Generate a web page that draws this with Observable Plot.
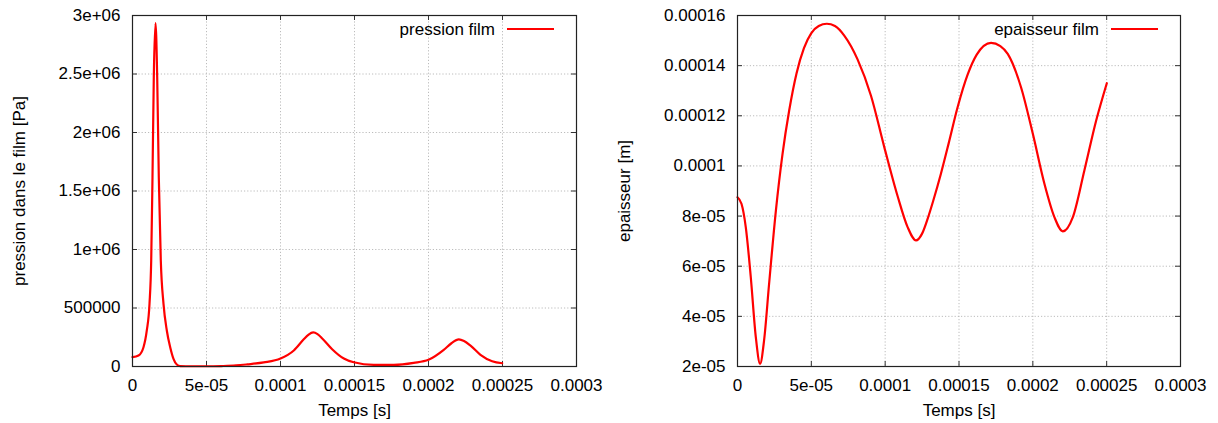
<!DOCTYPE html>
<html>
<head>
<meta charset="utf-8">
<script src="https://cdn.jsdelivr.net/npm/d3@7"></script>
<script src="https://cdn.jsdelivr.net/npm/@observablehq/plot@0.6"></script>
<style>
  html, body { margin: 0; padding: 0; background: #fff; }
  #wrap { position: relative; width: 1218px; height: 423px; }
  #left, #right { position: absolute; top: 0; }
  #left { left: 0; }
  #right { left: 609px; }
</style>
</head>
<body>
<div id="wrap"><div id="left"></div><div id="right"></div></div>
<script>
// ---- Data ----
const timePression = [0, 4.05e-6, 7.43e-6, 9.66e-6, 1.149e-5, 1.264e-5, 1.351e-5, 1.439e-5, 1.554e-5, 1.669e-5, 1.777e-5, 1.912e-5, 2.095e-5, 2.318e-5, 2.547e-5, 2.77e-5, 2.993e-5, 3.223e-5, 4.0e-5, 5.0e-5, 6.0e-5, 7.0e-5, 7.75e-5, 8.87e-5, 1.0e-4, 1.09e-4, 1.157e-4, 1.19e-4, 1.221e-4, 1.25e-4, 1.282e-4, 1.349e-4, 1.428e-4, 1.495e-4, 1.63e-4, 1.766e-4, 1.9e-4, 2.0e-4, 2.103e-4, 2.155e-4, 2.205e-4, 2.24e-4, 2.284e-4, 2.351e-4, 2.43e-4, 2.498e-4];
const pression = [79500, 94000, 165000, 308000, 536000, 906000, 1618000, 2473000, 2934000, 2473000, 1618000, 906000, 536000, 308000, 165000, 65000, 17000, 4000, 2000, 2000, 4000, 9000, 18000, 35000, 68000, 137000, 232000, 273000, 291000, 277000, 240000, 148000, 68000, 36000, 14000, 14000, 31000, 57000, 142000, 199000, 231000, 217000, 178000, 100000, 45000, 28000];

const timeEpaisseur = [0, 2.7e-6, 5.6e-6, 9.0e-6, 1.24e-5, 1.53e-5, 1.8e-5, 2.14e-5, 2.6e-5, 3.05e-5, 3.5e-5, 4.0e-5, 4.5e-5, 5.0e-5, 5.5e-5, 6.05e-5, 6.6e-5, 7.23e-5, 8.13e-5, 9.04e-5, 9.94e-5, 1.084e-4, 1.152e-4, 1.209e-4, 1.25e-4, 1.288e-4, 1.326e-4, 1.378e-4, 1.43e-4, 1.491e-4, 1.559e-4, 1.62e-4, 1.717e-4, 1.78e-4, 1.83e-4, 1.92e-4, 2.0e-4, 2.078e-4, 2.146e-4, 2.203e-4, 2.271e-4, 2.349e-4, 2.429e-4, 2.501e-4];
const epaisseur = [8.75e-5, 8.49e-5, 7.56e-5, 5.56e-5, 3.17e-5, 2.11e-5, 3.04e-5, 5.3e-5, 8.22e-5, 1.048e-4, 1.221e-4, 1.37e-4, 1.47e-4, 1.53e-4, 1.558e-4, 1.567e-4, 1.558e-4, 1.52e-4, 1.425e-4, 1.28e-4, 1.075e-4, 8.8e-5, 7.56e-5, 7.03e-5, 7.3e-5, 7.9e-5, 8.62e-5, 9.7e-5, 1.09e-4, 1.235e-4, 1.365e-4, 1.444e-4, 1.491e-4, 1.478e-4, 1.447e-4, 1.314e-4, 1.128e-4, 9.3e-5, 7.96e-5, 7.39e-5, 7.96e-5, 9.82e-5, 1.181e-4, 1.33e-4];

const xTicks = [0, 5e-5, 1e-4, 1.5e-4, 2e-4, 2.5e-4, 3e-4];
const xTickLabels = ["0", "5e-05", "0.0001", "0.00015", "0.0002", "0.00025", "0.0003"];
const yTicksPression = [0, 5e5, 1e6, 1.5e6, 2e6, 2.5e6, 3e6];
const yTickLabelsPression = ["0", "500000", "1e+06", "1.5e+06", "2e+06", "2.5e+06", "3e+06"];
const yTicksEpaisseur = [2e-5, 4e-5, 6e-5, 8e-5, 1e-4, 1.2e-4, 1.4e-4, 1.6e-4];
const yTickLabelsEpaisseur = ["2e-05", "4e-05", "6e-05", "8e-05", "0.0001", "0.00012", "0.00014", "0.00016"];

const xLabel = "Temps [s]";
const yLabelPression = "pression dans le film [Pa]";
const yLabelEpaisseur = "epaisseur [m]";
const legendPression = "pression film";
const legendEpaisseur = "epaisseur film";

// ---- Chart builder ----
const FONT = "Liberation Sans, Arial, Helvetica, sans-serif";
const RED = "#ff0000";

function legendMark(label) {
  return (index, scales, values, dims) => {
    const g = d3.create("svg:g");
    const right = dims.width - dims.marginRight;
    const y = dims.marginTop + 14;
    g.append("text")
      .attr("x", right - 81).attr("y", y).attr("dy", "0.35em")
      .attr("text-anchor", "end").attr("fill", "#000")
      .text(label);
    g.append("line")
      .attr("x1", right - 69).attr("x2", right - 22)
      .attr("y1", y).attr("y2", y)
      .attr("stroke", RED).attr("stroke-width", 2.2);
    return g.node();
  };
}

function chart({xs, ys, yDomain, yTicks, yTickLabels, yLabel, legend, marginLeft, marginRight, curve}) {
  const width = 609, height = 423, marginTop = 15, marginBottom = 57;
  const plotW = width - marginLeft - marginRight;
  const plotH = height - marginTop - marginBottom;
  const data = xs.map((t, i) => ({t, v: ys[i]}));
  const xFmt = new Map(xTicks.map((d, i) => [d, xTickLabels[i]]));
  const yFmt = new Map(yTicks.map((d, i) => [d, yTickLabels[i]]));
  const tickLen = 5;
  const gridStyle = {stroke: "#b4b4b4", strokeOpacity: 1, strokeWidth: 0.9, strokeDasharray: "1.2,2"};
  const tickStyle = {stroke: "#333", strokeWidth: 1};
  return Plot.plot({
    width, height, marginTop, marginBottom, marginLeft, marginRight,
    style: {fontFamily: FONT, fontSize: "17px", background: "#fff", color: "#000", overflow: "visible"},
    x: {domain: [0, 3e-4]},
    y: {domain: yDomain},
    marks: [
      Plot.gridX(xTicks, gridStyle),
      Plot.gridY(yTicks, gridStyle),
      Plot.tickX(xTicks, {x: d => d, insetTop: plotH - tickLen, ...tickStyle}),
      Plot.tickX(xTicks, {x: d => d, insetBottom: plotH - tickLen, ...tickStyle}),
      Plot.tickY(yTicks, {y: d => d, insetRight: plotW - tickLen, ...tickStyle}),
      Plot.tickY(yTicks, {y: d => d, insetLeft: plotW - tickLen, ...tickStyle}),
      Plot.axisX(xTicks, {tickSize: 0, tickPadding: 12, tickFormat: d => xFmt.get(d), label: null, fontSize: 17, fill: "#000"}),
      Plot.axisY(yTicks, {tickSize: 0, tickPadding: 12, tickFormat: d => yFmt.get(d), label: null, fontSize: 17, fill: "#000"}),
      Plot.line(data, {x: "t", y: "v", stroke: RED, strokeWidth: 2.2, curve}),
      Plot.frame({stroke: "#222", strokeWidth: 1.2}),
      Plot.text([xLabel], {frameAnchor: "bottom", dy: 44, text: d => d, fontSize: 17, fill: "#000", lineAnchor: "middle"}),
      Plot.text([yLabel], {frameAnchor: "left", dx: -113, rotate: -90, text: d => d, fontSize: 17, fill: "#000", lineAnchor: "middle", textAnchor: "middle"}),
      legendMark(legend)
    ]
  });
}

document.getElementById("left").appendChild(chart({
  xs: timePression, ys: pression, yDomain: [0, 3e6],
  yTicks: yTicksPression, yTickLabels: yTickLabelsPression,
  yLabel: yLabelPression, legend: legendPression,
  marginLeft: 132, marginRight: 33, curve: "monotone-x"
}));
document.getElementById("right").appendChild(chart({
  xs: timeEpaisseur, ys: epaisseur, yDomain: [2e-5, 1.6e-4],
  yTicks: yTicksEpaisseur, yTickLabels: yTickLabelsEpaisseur,
  yLabel: yLabelEpaisseur, legend: legendEpaisseur,
  marginLeft: 128, marginRight: 38, curve: "monotone-x"
}));
</script>
</body>
</html>
